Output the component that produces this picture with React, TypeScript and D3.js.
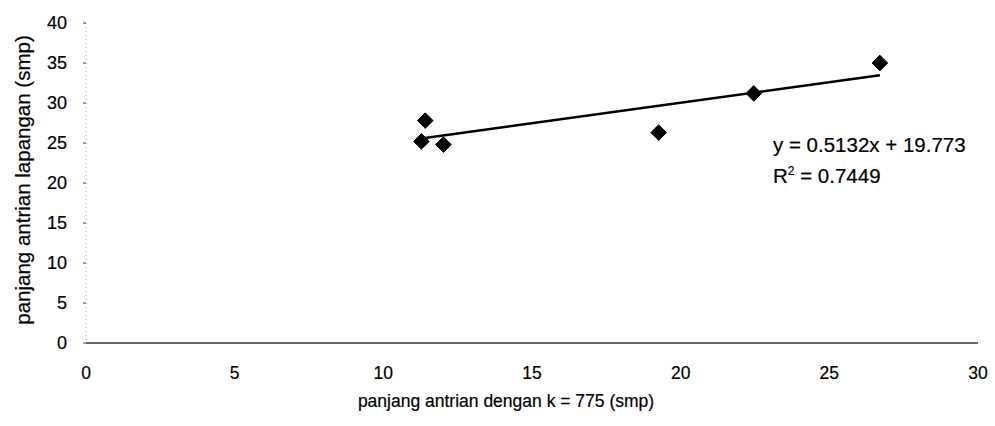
import React from "react";
import * as d3 from "d3";

const xValues = [11.28, 11.41, 12.02, 19.26, 22.46, 26.7];
const yValues = [25.2, 27.8, 24.8, 26.3, 31.2, 35.0];
const xTicks = [0, 5, 10, 15, 20, 25, 30];
const yTicks = [0, 5, 10, 15, 20, 25, 30, 35, 40];
const slope = 0.5132;
const intercept = 19.773;
const eqLabel = "y = 0.5132x + 19.773";
const r2Value = "0.7449";
const xTitle = "panjang antrian dengan k = 775 (smp)";
const yTitle = "panjang antrian lapangan (smp)";

const W = 995;
const H = 426;
const FONT = "'Liberation Sans', Arial, sans-serif";

export default function App() {
  const x = d3.scaleLinear().domain([0, 30]).range([86, 978]);
  const y = d3.scaleLinear().domain([0, 40]).range([343, 23]);
  const pts = xValues.map((v, i) => ({ x: v, y: yValues[i] }));
  const xMin = d3.min(xValues) as number;
  const xMax = d3.max(xValues) as number;
  const line = d3
    .line<number>()
    .x((d) => x(d))
    .y((d) => y(slope * d + intercept));
  const r = 7.8;
  const diamond = (cx: number, cy: number) =>
    `M${cx},${cy - r}L${cx + r},${cy}L${cx},${cy + r}L${cx - r},${cy}Z`;

  return (
    <svg
      width={W}
      height={H}
      style={{ position: "absolute", left: 0, top: 0, background: "#fff" }}
      fontFamily={FONT}
    >
      <rect width={W} height={H} fill="#fff" />
      {/* y axis */}
      <line x1={86} x2={86} y1={y(40)} y2={y(0)} stroke="#999" strokeWidth={1} strokeDasharray="1,3" />
      {yTicks.map((t) => (
        <g key={t}>
          <line x1={83} x2={86} y1={y(t)} y2={y(t)} stroke="#444" strokeWidth={1} />
          <text x={67} y={y(t)} dy="0.35em" textAnchor="end" fontSize={18} fill="#000" stroke="#000" strokeWidth={0.2}>
            {t}
          </text>
        </g>
      ))}
      {/* x axis */}
      <line x1={x(0)} x2={x(30)} y1={y(0)} y2={y(0)} stroke="#333" strokeWidth={1.3} />
      {xTicks.map((t) => (
        <text key={t} x={x(t)} y={373} dy="0.35em" textAnchor="middle" fontSize={17.5} fill="#000" stroke="#000" strokeWidth={0.2}>
          {t}
        </text>
      ))}
      {/* trend line */}
      <path d={line([xMin, xMax]) || ""} stroke="#000" strokeWidth={2.4} fill="none" />
      {pts.map((p, i) => (
        <path key={i} d={diamond(x(p.x), y(p.y))} fill="#000" stroke="#000" strokeWidth={1} strokeLinejoin="round" />
      ))}
      {/* equation */}
      <text x={773} y={152} fontSize={20.5} fill="#000" stroke="#000" strokeWidth={0.2}>
        {eqLabel}
      </text>
      <text x={773} y={183} fontSize={20.5} fill="#000" stroke="#000" strokeWidth={0.2}>
        R<tspan fontSize={12} dy={-8}>2</tspan>
        <tspan dy={8}>{" = " + r2Value}</tspan>
      </text>
      {/* titles */}
      <text x={506} y={407} textAnchor="middle" fontSize={17.5} fill="#000" stroke="#000" strokeWidth={0.2}>
        {xTitle}
      </text>
      <text
        transform={`translate(30,180) rotate(-90)`}
        textAnchor="middle"
        fontSize={20.5}
        fill="#000"
        stroke="#000"
        strokeWidth={0.2}
      >
        {yTitle}
      </text>
    </svg>
  );
}
